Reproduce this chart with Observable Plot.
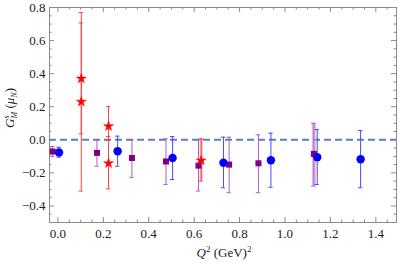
<!DOCTYPE html>
<html>
<head>
<meta charset="utf-8">
<script src="https://cdn.jsdelivr.net/npm/d3@7"></script>
<script src="https://cdn.jsdelivr.net/npm/@observablehq/plot@0.6"></script>
<style>
  html, body { margin: 0; padding: 0; background: #fff; }
  #chart svg { display: block; }
  #chart svg text { font-family: "Liberation Serif", serif !important; }
</style>
</head>
<body>
<div id="chart"></div>
<script>
// ---- data ----
const blueQ2   = [0.005, 0.263, 0.505, 0.729, 0.938, 1.142, 1.333];
const blueG    = [-0.077, -0.069, -0.110, -0.139, -0.124, -0.105, -0.118];
const blueLo   = [-0.105, -0.160, -0.240, -0.290, -0.287, -0.270, -0.290];
const blueHi   = [-0.045, 0.022, 0.020, 0.016, 0.040, 0.062, 0.056];

const purpleQ2 = [-0.023, 0.172, 0.326, 0.476, 0.619, 0.754, 0.883, 1.127];
const purpleG  = [-0.071, -0.079, -0.110, -0.131, -0.156, -0.150, -0.142, -0.085];
const purpleLo = [-0.100, -0.160, -0.227, -0.270, -0.310, -0.320, -0.320, -0.280];
const purpleHi = [-0.040, 0.000, 0.000, 0.006, 0.000, 0.016, 0.030, 0.100];

const redQ2    = [0.103, 0.103, 0.223, 0.223, 0.631];
const redG     = [0.370, 0.230, 0.082, -0.142, -0.125];
const redLo    = [0.036, -0.310, -0.004, -0.297, -0.250];
const redHi    = [0.707, 0.770, 0.200, 0.020, 0.006];

const xTicks = [0.0, 0.2, 0.4, 0.6, 0.8, 1.0, 1.2, 1.4];
const yTicks = [-0.4, -0.2, 0.0, 0.2, 0.4, 0.6, 0.8];

const xDomain = [-0.037, 1.491];
const yDomain = [-0.5, 0.8];

const mk = (xs, ys, lo, hi) => xs.map((x, i) => ({x, y: ys[i], lo: lo[i], hi: hi[i], i}));
const blue = mk(blueQ2, blueG, blueLo, blueHi);
const purple = mk(purpleQ2, purpleG, purpleLo, purpleHi);
const red = mk(redQ2, redG, redLo, redHi);

const W = 399, H = 263;
const mL = 49, mR = 3, mT = 7, mB = 41;
const pxX = (W - mL - mR) / (xDomain[1] - xDomain[0]);
const pxY = (H - mT - mB) / (yDomain[1] - yDomain[0]);
const capW = 2.2 / pxX;

const minorX = d3.range(0, 1.4501, 0.05).map(v => +v.toFixed(3));
const minorY = d3.range(-0.45, 0.8001, 0.05).map(v => +v.toFixed(3));
const isMajor = (v) => Math.abs(v * 5 - Math.round(v * 5)) < 1e-6;
const frameCol = "#8a8a8a";
const serif = "Liberation Serif";

function errMarks(data, col) {
  return [
    Plot.ruleX(data, {x: "x", y1: "lo", y2: "hi", stroke: col, strokeWidth: 1}),
    Plot.ruleY(data, {y: "lo", x1: d => d.x - capW, x2: d => d.x + capW, stroke: col, strokeWidth: 1}),
    Plot.ruleY(data, {y: "hi", x1: d => d.x - capW, x2: d => d.x + capW, stroke: col, strokeWidth: 1})
  ];
}

const tickLen = (v, ax) => (isMajor(v) ? 5 : 2.5) / ax;

const plot = Plot.plot({
  width: W, height: H,
  marginLeft: mL, marginRight: mR, marginTop: mT, marginBottom: mB,
  x: {domain: xDomain},
  y: {domain: yDomain},
  style: {fontFamily: serif, fontSize: "13px", color: "#222", background: "#fff"},
  marks: [
    // tick labels
    Plot.axisX({ticks: xTicks, tickSize: 0, tickPadding: 6, tickFormat: d3.format(".1f"), label: null, fontSize: 13, fontFamily: serif}),
    Plot.axisY({ticks: yTicks, tickSize: 0, tickPadding: 4, tickFormat: d3.format(".1f"), label: null, fontSize: 13, fontFamily: serif}),
    // frame ticks (inward)
    Plot.ruleX(minorX, {x: d => d, y1: yDomain[0], y2: d => yDomain[0] + tickLen(d, pxY), stroke: frameCol}),
    Plot.ruleX(minorX, {x: d => d, y1: yDomain[1], y2: d => yDomain[1] - tickLen(d, pxY), stroke: frameCol}),
    Plot.ruleY(minorY, {y: d => d, x1: xDomain[0], x2: d => xDomain[0] + tickLen(d, pxX), stroke: frameCol}),
    Plot.ruleY(minorY, {y: d => d, x1: xDomain[1], x2: d => xDomain[1] - tickLen(d, pxX), stroke: frameCol}),
    Plot.frame({stroke: frameCol, strokeWidth: 1}),
    // zero line
    Plot.ruleY([0], {stroke: "#5b82b4", strokeWidth: 2, strokeDasharray: "7,4"}),
    // wide translucent bands
    Plot.ruleX(purple.filter(d => d.i === 7), {x: "x", y1: "lo", y2: "hi", stroke: "#cfa0dc", strokeWidth: 4, strokeOpacity: 0.7}),
    Plot.ruleX(red.filter(d => d.i === 4), {x: "x", y1: "lo", y2: "hi", stroke: "#ff9a9a", strokeWidth: 3, strokeOpacity: 0.7}),
    // error bars
    ...errMarks(red, "#ff4040"),
    ...errMarks(purple, "#b05cc4"),
    ...errMarks(blue, "#4a4aff"),
    // symbols
    Plot.dot(purple, {x: "x", y: "y", symbol: "square", r: 3.4, fill: "#800080", stroke: "none"}),
    Plot.dot(blue, {x: "x", y: "y", r: 4.2, fill: "#0000ff", stroke: "none"}),
    Plot.dot(red, {x: "x", y: "y", symbol: "star", r: 3.1, fill: "#ff0000", stroke: "#ff0000", strokeWidth: 0.5})
  ]
});

const svg = d3.select(plot);
// x axis label
const xl = svg.append("text")
  .attr("x", 224).attr("y", 257)
  .attr("text-anchor", "middle")
  .attr("font-family", serif).attr("font-size", 13).attr("fill", "#222");
xl.append("tspan").attr("font-style", "italic").text("Q");
xl.append("tspan").attr("font-size", 9).attr("dy", -5).text("2");
xl.append("tspan").attr("dy", 5).text(" (GeV)");
xl.append("tspan").attr("font-size", 9).attr("dy", -5).text("2");

// y axis label
const yl = svg.append("text")
  .attr("transform", "translate(14,108) rotate(-90)")
  .attr("text-anchor", "middle")
  .attr("font-family", serif).attr("font-size", 13).attr("fill", "#222");
yl.append("tspan").attr("font-style", "italic").text("G");
yl.append("tspan").attr("font-size", 8).attr("font-style", "italic").attr("dy", -5).text("s");
yl.append("tspan").attr("font-size", 8).attr("font-style", "italic").attr("dx", -3).attr("dy", 8).text("M");
yl.append("tspan").attr("dy", -3).text(" (");
yl.append("tspan").attr("font-style", "italic").text("μ");
yl.append("tspan").attr("font-size", 8).attr("font-style", "italic").attr("dy", 3).text("N");
yl.append("tspan").attr("dy", -3).text(")");

document.getElementById("chart").appendChild(plot);
</script>
</body>
</html>
